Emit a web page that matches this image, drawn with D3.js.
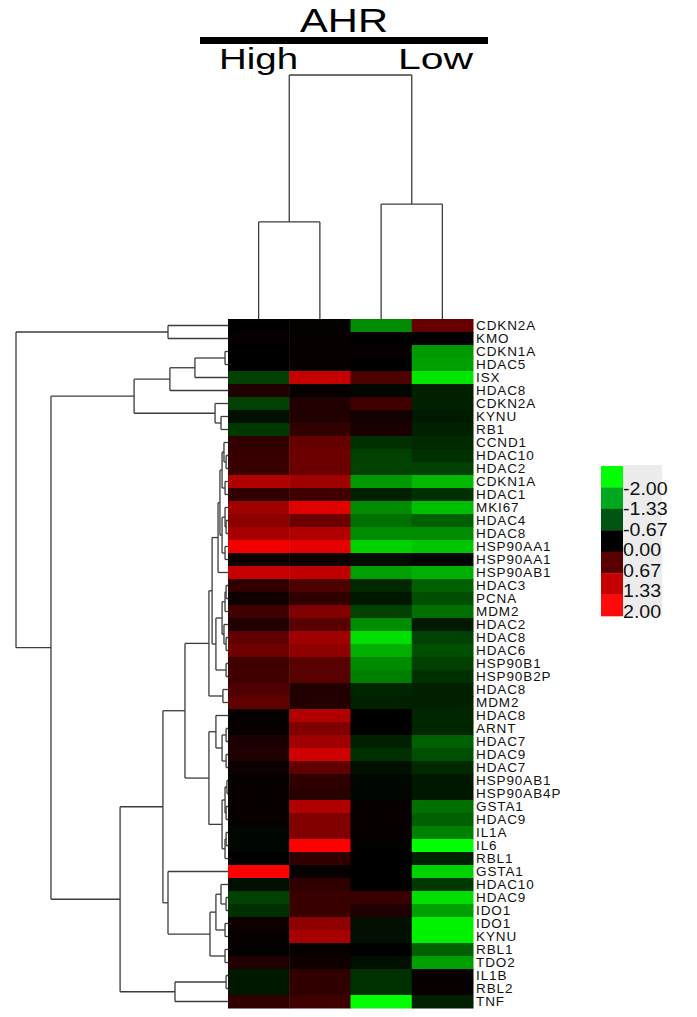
<!DOCTYPE html>
<html>
<head>
<meta charset="utf-8">
<script src="https://cdn.jsdelivr.net/npm/d3@7"></script>
<style>
  body { margin: 0; background: #fff; }
  svg { display: block; font-family: "Liberation Sans", Arial, sans-serif; }
</style>
</head>
<body>
<div id="chart"></div>
<script>
// gene rows, top to bottom
const genes = ["CDKN2A","KMO","CDKN1A","HDAC5","ISX","HDAC8","CDKN2A","KYNU","RB1",
  "CCND1","HDAC10","HDAC2","CDKN1A","HDAC1","MKI67","HDAC4","HDAC8","HSP90AA1","HSP90AA1",
  "HSP90AB1","HDAC3","PCNA","MDM2","HDAC2","HDAC8","HDAC6","HSP90B1","HSP90B2P","HDAC8",
  "MDM2","HDAC8","ARNT","HDAC7","HDAC9","HDAC7","HSP90AB1","HSP90AB4P","GSTA1","HDAC9",
  "IL1A","IL6","RBL1","GSTA1","HDAC10","HDAC9","IDO1","IDO1","KYNU","RBL1","TDO2","IL1B",
  "RBL2","TNF"];

// expression per sample column (red = up, green = down)
const high1 = [0,0.05,0,0,-0.5,0.25,-0.5,-0.12,-0.45,0.38,0.42,0.45,1.38,0.38,1.25,1.1,1.3,1.9,0.12,
  1.55,0.38,0.12,0.5,0.25,0.75,0.88,0.5,0.5,0.62,0.75,0.05,0.05,0.2,0.25,0.1,0.05,0.05,0.05,0.05,
  -0.05,-0.05,0,2.0,-0.12,-0.5,-0.38,0.12,0.05,0.02,0.25,-0.18,-0.18,0.38];
const high2 = [0.02,0.05,0.05,0.05,1.55,0.05,0.25,0.25,0.4,0.8,0.85,0.85,1.25,0.5,1.75,0.85,1.38,1.8,0.12,
  1.5,0.6,0.38,1.0,0.7,1.25,1.12,0.7,0.7,0.25,0.25,1.38,1.0,1.25,1.62,0.75,0.38,0.32,1.38,1.0,
  1.0,2.0,0.38,0.05,0.38,0.45,0.45,1.12,1.3,0.05,0.12,0.38,0.38,0.5];
const low1 = [-1.1,0,0.05,0,0.6,-0.05,0.5,0.15,0.2,-0.38,-0.5,-0.5,-1.2,-0.25,-1.1,-0.88,-1.1,-1.65,-0.1,
  -1.25,-0.32,-0.18,-0.5,-1.1,-1.75,-1.38,-1.1,-1.0,-0.3,-0.25,0,0,-0.25,-0.38,-0.12,-0.05,-0.05,0.05,0.05,
  0.05,0.02,0,0,0,0.45,0.25,-0.12,-0.12,0,-0.12,-0.38,-0.38,-2.0];
const low2 = [0.8,0,-1.2,-1.25,-1.8,-0.25,-0.25,-0.2,-0.25,-0.32,-0.38,-0.5,-1.45,-0.38,-1.5,-0.75,-1.1,-1.55,-0.05,
  -1.38,-0.75,-0.62,-0.88,-0.2,-0.5,-0.62,-0.5,-0.38,-0.25,-0.25,-0.3,-0.3,-0.75,-0.62,-0.32,-0.18,-0.18,-0.88,-0.75,
  -1.0,-2.0,-0.25,-1.65,-0.45,-1.75,-1.25,-1.9,-1.9,-0.75,-1.25,0.05,0.05,-0.25];

const groups = ["High", "Low"];
const legendTicks = ["-2.00","-1.33","-0.67","0.00","0.67","1.33","2.00"];
const legendColors = ["#00ff00","#00a820","#005512","#000000","#5a0000","#c40000","#ff0a0a"];

// dendrograms: [height, left, right], leaves are row / column indices
const rowTree = [1.0,
  [0.283, 0, 1],
  [0.835,
    [0.443,
      [0.274, [0.156, [0.014, 2, 3], 4], 5],
      [0.061, 6, [0.033, 7, 8]]],
    [0.509,
      [0.307,
        [0.203,
          [0.09,
            [0.075,
              [0.047,
                [0.038,
                  [0.028, [0.019, 9, [0.009, 10, 11]], [0.014, 12, 13]],
                  [0.028, [0.014, 14, [0.009, 15, 16]], [0.014, 17, 18]]],
                19],
              [0.057,
                [0.028, [0.014, [0.009, 20, 21], 22], [0.019, 23, [0.009, 24, 25]]],
                [0.009, 26, 27]]],
            [0.024, 28, 29]],
          [0.09,
            [0.057, 30, [0.028, [0.009, 31, 32], [0.009, 33, 34]]],
            [0.028,
              [0.014, [0.005, 35, 36], [0.009, 37, 38]],
              [0.014, [0.009, 39, 40], 41]]]],
        [0.283, 42,
          [0.085,
            [0.057, [0.033, 43, [0.009, 44, 45]], [0.014, 46, 47]],
            [0.014, 48, 49]]]],
      [0.25, [0.009, 50, 51], 52]]]];
const colTree = [1.0, [0.398, 0, 1], [0.471, 2, 3]];

const values = [high1, high2, low1, low2];
const W = 697, H = 1017;

const svg = d3.select("#chart").append("svg")
  .attr("width", W).attr("height", H);
svg.append("rect").attr("width", W).attr("height", H).attr("fill", "#fff");

const x = d3.scaleBand().domain(d3.range(values.length)).range([228, 473]);
const y = d3.scaleBand().domain(d3.range(genes.length)).range([319, 1008]);
const rowH = d3.scaleLinear().domain([0, 1]).range([228, 16]);
const colH = d3.scaleLinear().domain([0, 1]).range([319, 75]);
const color = d3.scaleLinear().domain([-2, 0, 2])
  .range(["#00ff00", "#000000", "#ff0000"]).clamp(true);

// heatmap cells
const cells = [];
values.forEach((col, j) => col.forEach((v, i) => cells.push({ i, j, v })));
svg.append("g").selectAll("rect").data(cells).enter().append("rect")
  .attr("x", d => x(d.j))
  .attr("y", d => y(d.i))
  .attr("width", x.bandwidth() + 0.5)
  .attr("height", y.bandwidth() + 0.5)
  .attr("fill", d => color(d.v));

// row labels
svg.append("g").selectAll("text").data(genes).enter().append("text")
  .attr("x", 476)
  .attr("y", (d, i) => y(i) + y.bandwidth() / 2 + 4.8)
  .attr("font-size", 13.5)
  .attr("letter-spacing", 0.9)
  .attr("fill", "#111")
  .text(d => d);

// lay out a dendrogram: leaf at band center, node at mean of its children
function layout(tree, leafPos) {
  const root = d3.hierarchy(tree, d => Array.isArray(d) ? d.slice(1) : null);
  root.eachAfter(n => {
    if (!n.children) { n.h = 0; n.pos = leafPos(n.data); }
    else { n.h = n.data[0]; n.pos = d3.mean(n.children, c => c.pos); }
  });
  return root;
}

function segments(root) {
  const segs = [];
  root.each(n => {
    if (!n.children) return;
    segs.push([n.h, n.children[0].pos, n.h, n.children[1].pos]);
    n.children.forEach(c => segs.push([n.h, c.pos, c.h, c.pos]));
  });
  return segs;
}

const rowRoot = layout(rowTree, i => y(i) + y.bandwidth() / 2);
svg.append("g").selectAll("line").data(segments(rowRoot)).enter().append("line")
  .attr("x1", d => rowH(d[0])).attr("y1", d => d[1])
  .attr("x2", d => rowH(d[2])).attr("y2", d => d[3])
  .attr("stroke", "#3c3c3c").attr("stroke-width", 1.3);

const colRoot = layout(colTree, j => x(j) + x.bandwidth() / 2);
svg.append("g").selectAll("line").data(segments(colRoot)).enter().append("line")
  .attr("x1", d => d[1]).attr("y1", d => colH(d[0]))
  .attr("x2", d => d[3]).attr("y2", d => colH(d[2]))
  .attr("stroke", "#3c3c3c").attr("stroke-width", 1.3);

// header
svg.append("text").attr("x", 300).attr("y", 32)
  .attr("font-size", 33).attr("textLength", 88).attr("lengthAdjust", "spacingAndGlyphs")
  .text("AHR");
svg.append("rect").attr("x", 200).attr("y", 37).attr("width", 288).attr("height", 7).attr("fill", "#000");
svg.append("text").attr("x", 219).attr("y", 69)
  .attr("font-size", 30).attr("textLength", 79).attr("lengthAdjust", "spacingAndGlyphs")
  .text(groups[0]);
svg.append("text").attr("x", 398).attr("y", 69)
  .attr("font-size", 30).attr("textLength", 75).attr("lengthAdjust", "spacingAndGlyphs")
  .text(groups[1]);

// legend
const lg = svg.append("g");
lg.append("rect").attr("x", 623).attr("y", 465).attr("width", 39).attr("height", 151).attr("fill", "#ececec");
const ly = d3.scaleBand().domain(d3.range(legendColors.length)).range([466, 616]);
lg.selectAll("rect.sw").data(legendColors).enter().append("rect")
  .attr("class", "sw")
  .attr("x", 601).attr("y", (d, i) => ly(i))
  .attr("width", 22).attr("height", ly.bandwidth() + 0.3)
  .attr("fill", d => d);
const lt = d3.scalePoint().domain(legendTicks).range([488, 611]);
lg.selectAll("text").data(legendTicks).enter().append("text")
  .attr("x", 623)
  .attr("y", d => lt(d) + 6.5)
  .attr("font-size", 17.5)
  .attr("fill", "#111")
  .text(d => d)
  .each(function() {
    const w = this.getComputedTextLength();
    d3.select(this).attr("textLength", w * 1.12).attr("lengthAdjust", "spacingAndGlyphs");
  });
</script>
</body>
</html>
